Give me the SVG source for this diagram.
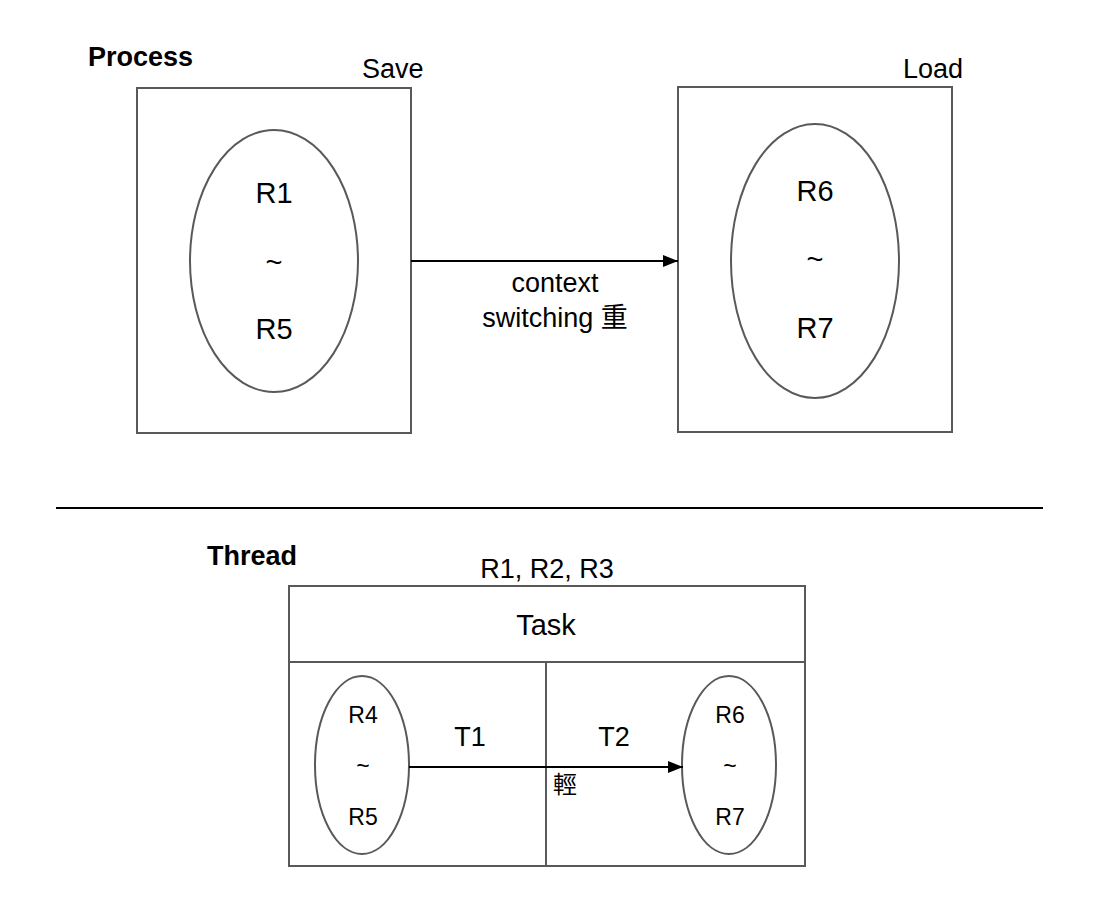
<svg xmlns="http://www.w3.org/2000/svg" width="1116" height="924" viewBox="0 0 1116 924">
<defs>
<style>
.box{fill:#fff;stroke:#595959;stroke-width:2}
.t{font-family:"Liberation Sans","Noto Sans CJK TC",Arial,sans-serif;fill:#000}
.c{text-anchor:middle}
.b{font-weight:bold}
.conn{stroke:#000;stroke-width:2;fill:none}
</style>
<marker id="ah" viewBox="0 0 10 10" refX="10" refY="5" markerWidth="15" markerHeight="15" markerUnits="userSpaceOnUse" orient="auto"><path d="M0,1 L10,5 L0,9 Z" fill="#000"/></marker>
</defs>
<rect width="1116" height="924" fill="#fff"/>
<text class="t b" x="88" y="66" font-size="27">Process</text>
<text class="t b" x="207" y="565" font-size="27">Thread</text>
<line x1="56" y1="508" x2="1043" y2="508" stroke="#000" stroke-width="2"/>
<g id="save">
<text class="t" x="362" y="78" font-size="27">Save</text>
<rect class="box" x="137" y="88" width="274" height="345"/>
<ellipse class="box" cx="274" cy="261" rx="84" ry="131"/>
<text class="t c" x="274" y="203" font-size="29">R1</text>
<text class="t c" x="274" y="272" font-size="29">~</text>
<text class="t c" x="274" y="339" font-size="29">R5</text>
</g>
<g id="load">
<text class="t" x="903" y="78" font-size="27">Load</text>
<rect class="box" x="678" y="87" width="274" height="345"/>
<ellipse class="box" cx="815" cy="261" rx="84" ry="137"/>
<text class="t c" x="815" y="201" font-size="29">R6</text>
<text class="t c" x="815" y="269" font-size="29">~</text>
<text class="t c" x="815" y="338" font-size="29">R7</text>
</g>
<g id="task">
<text class="t c" x="547" y="578" font-size="27">R1, R2, R3</text>
<rect class="box" x="289" y="586" width="516" height="280"/>
<line class="box" x1="289" y1="662" x2="805" y2="662"/>
<line class="box" x1="546" y1="662" x2="546" y2="866"/>
<text class="t c" x="546" y="635" font-size="29">Task</text>
<text class="t c" x="470" y="746" font-size="27">T1</text>
<text class="t c" x="614" y="746" font-size="27">T2</text>
</g>
<g id="t1">
<ellipse class="box" cx="362" cy="765" rx="47" ry="89"/>
<text class="t c" x="363" y="723" font-size="23">R4</text>
<text class="t c" x="363" y="774" font-size="23">~</text>
<text class="t c" x="363" y="825" font-size="23">R5</text>
</g>
<g id="t2">
<ellipse class="box" cx="729" cy="765" rx="47" ry="89"/>
<text class="t c" x="730" y="723" font-size="23">R6</text>
<text class="t c" x="730" y="774" font-size="23">~</text>
<text class="t c" x="730" y="825" font-size="23">R7</text>
</g>
<g id="connectors">
<line class="conn" x1="411" y1="261" x2="678" y2="261" marker-end="url(#ah)"/>
<line class="conn" x1="409" y1="767" x2="683" y2="767" marker-end="url(#ah)"/>
<text class="t c" x="555" y="292" font-size="27">context</text>
<text class="t c" x="555" y="327" font-size="27">switching 重</text>
<text class="t" x="553" y="793" font-size="24">輕</text>
</g>
</svg>
